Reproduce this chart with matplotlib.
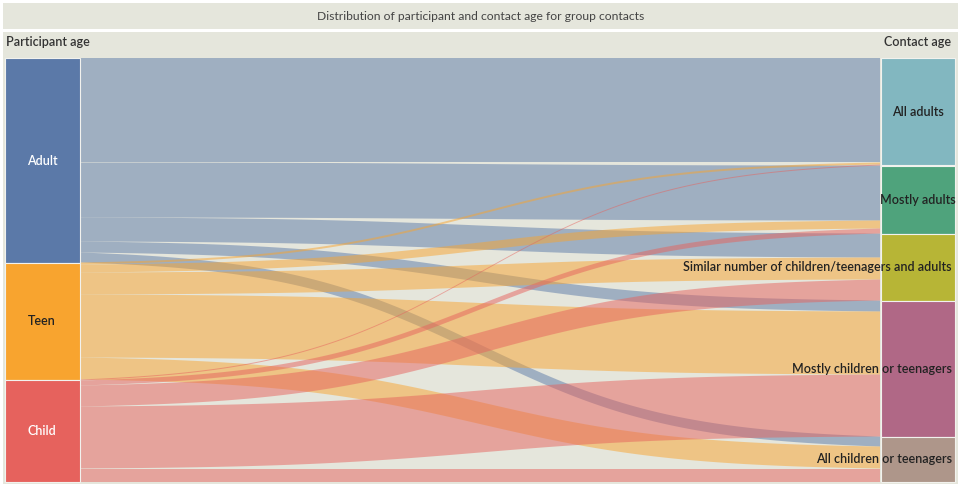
#!/usr/bin/env python3
# -*- coding: utf-8 -*-

import numpy as np
import matplotlib
matplotlib.use("Agg")
import matplotlib.pyplot as plt
from matplotlib.patches import Rectangle

plt.rcParams["font.family"] = ["Lato", "DejaVu Sans"]

title = "Distribution of participant and contact age for group contacts"

participant = ["Adult", "Teen", "Child"]
contact = ["All adults", "Mostly adults",
           "Similar number of children/teenagers and adults",
           "Mostly children or teenagers", "All children or teenagers"]

# flow weights, participant -> contact
adult_flows = [104, 55, 24, 11, 10]
teen_flows = [2, 8, 22, 63, 22]
child_flows = [1, 5, 21, 62, 13]

participant_colors = ["#5b79a8", "#f8a42f", "#e6625d"]
contact_colors = ["#82b7c0", "#4fa37c", "#b7b536", "#b06886", "#ae968a"]
participant_text = ["white", "#222222", "white"]
contact_ha = ["center", "center", "right", "right", "right"]

flows = np.array([adult_flows, teen_flows, child_flows], dtype=float)

BG = "#e5e6dc"
W, H = 960, 486
node_top, node_bot = 58.5, 481.5
left_x0, left_x1 = 5, 79.5
right_x0, right_x1 = 880.5, 955
flow_x0, flow_x1 = 80, 880
label_size = 9.0
label_weight = 600

fig = plt.figure(figsize=(W / 100, H / 100), dpi=100, facecolor="white")
ax = fig.add_axes([0, 0, 1, 1])
ax.set_xlim(0, W)
ax.set_ylim(H, 0)
ax.axis("off")

# title bar and chart background
ax.add_patch(Rectangle((3, 3), 955, 26.5, facecolor=BG, edgecolor="none"))
ax.add_patch(Rectangle((3, 32), 955, 452, facecolor=BG, edgecolor="none"))
ax.text(480.5, 16.5, title, ha="center", va="center", fontsize=8.7, color="#444444")
ax.text(6, 41.5, "Participant age", ha="left", va="center", fontsize=label_size,
        color="#333333", fontweight=label_weight)
ax.text(951, 41.5, "Contact age", ha="right", va="center", fontsize=label_size,
        color="#333333", fontweight=label_weight)

scale = (node_bot - node_top) / flows.sum()
src_tot = flows.sum(axis=1) * scale
dst_tot = flows.sum(axis=0) * scale
src_top = node_top + np.concatenate([[0], np.cumsum(src_tot)[:-1]])
dst_top = node_top + np.concatenate([[0], np.cumsum(dst_tot)[:-1]])

# sigmoid profile
xs = np.linspace(0, 1, 200)
sig = 1 / (1 + np.exp(-(xs * 8 - 4)))
sig = (sig - sig[0]) / (sig[-1] - sig[0])
px = flow_x0 + xs * (flow_x1 - flow_x0)

# stacking on the contact side: by participant within each contact
dst_offsets = np.vstack([np.zeros(flows.shape[1]), np.cumsum(flows, axis=0)[:-1]]) * scale

for i in range(flows.shape[0]):
    left_off = 0.0
    for j in range(flows.shape[1]):
        h = flows[i, j] * scale
        y0 = src_top[i] + left_off
        y1 = dst_top[j] + dst_offsets[i, j]
        top = y0 + (y1 - y0) * sig
        ax.fill_between(px, top, top + h, facecolor=participant_colors[i],
                        alpha=0.5, linewidth=0)
        left_off += h

# nodes
for i, name in enumerate(participant):
    ax.add_patch(Rectangle((left_x0, src_top[i]), left_x1 - left_x0, src_tot[i],
                           facecolor=participant_colors[i], edgecolor="#f2f2ee", linewidth=0.8))
    ax.text((left_x0 + left_x1) / 2, src_top[i] + src_tot[i] / 2, name,
            ha="center", va="center", fontsize=label_size, color=participant_text[i],
            fontweight=label_weight)

for j, name in enumerate(contact):
    ax.add_patch(Rectangle((right_x0, dst_top[j]), right_x1 - right_x0, dst_tot[j],
                           facecolor=contact_colors[j], edgecolor="#f2f2ee", linewidth=0.8))
    tx = (right_x0 + right_x1) / 2 if contact_ha[j] == "center" else right_x1 - 3
    ax.text(tx, dst_top[j] + dst_tot[j] / 2, name,
            ha=contact_ha[j], va="center", fontsize=label_size, color="#222222",
            fontweight=label_weight)

fig.savefig("out.png", dpi=100, facecolor="white")
